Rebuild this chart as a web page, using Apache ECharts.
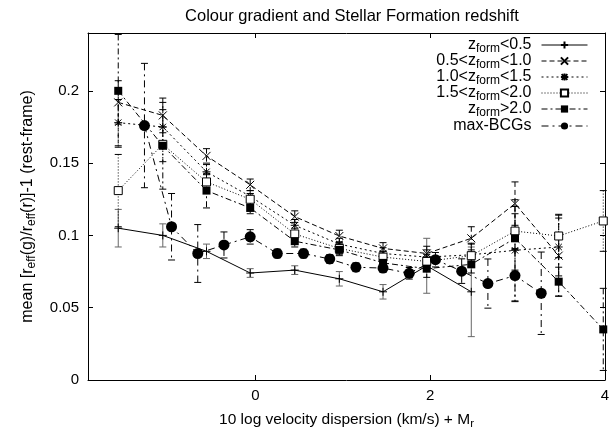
<!DOCTYPE html>
<html>
<head>
<meta charset="utf-8">
<script src="https://cdn.jsdelivr.net/npm/echarts@6/dist/echarts.min.js"></script>
<style>
  html, body { margin: 0; padding: 0; background: #fff; }
  #chart { width: 613px; height: 435px; }
</style>
</head>
<body>
<div id="chart"></div>
<script>
// velocity-dispersion bins shared by the z_form samples
const binX = [-1.57, -1.06, -0.56, -0.06, 0.45, 0.96, 1.46, 1.96, 2.47, 2.97, 3.47, 3.98];

// mean colour gradient and its error, per formation-redshift sample
const zLt05    = [0.105, 0.100, 0.089, 0.074, 0.076, 0.070, 0.061, 0.079, 0.061];
const zLt05Err = [0.013, 0.008, 0.005, 0.003, 0.003, 0.005, 0.005, 0.019, 0.031];

const z05to10    = [0.192, 0.183, 0.155, 0.135, 0.113, 0.0996, 0.091, 0.0875, 0.098, 0.122, 0.086];
const z05to10Err = [0.015, 0.012, 0.005, 0.004, 0.004, 0.004, 0.004, 0.005, 0.008, 0.015, 0.028];

const z10to15    = [0.178, 0.175, 0.144, 0.127, 0.107, 0.094, 0.0875, 0.085, 0.0866, 0.0897, 0.092];
const z10to15Err = [0.016, 0.012, 0.005, 0.004, 0.004, 0.004, 0.004, 0.005, 0.008, 0.035, 0.020];

const z15to20    = [0.131, 0.163, 0.137, 0.125, 0.101, 0.091, 0.085, 0.082, 0.086, 0.103, 0.0996, 0.110];
const z15to20Err = [0.025, 0.012, 0.005, 0.004, 0.004, 0.004, 0.004, 0.005, 0.008, 0.012, 0.015, 0.021];

const zGt20    = [0.200, 0.162, 0.131, 0.119, 0.096, 0.090, 0.081, 0.077, 0.080, 0.098, 0.068, 0.035];
const zGt20Err = [0.039, 0.030, 0.012, 0.004, 0.004, 0.004, 0.005, 0.006, 0.006, 0.022, 0.010, 0.0284];

// max-BCG comparison sample (its own bins)
const bcgX   = [-1.27, -0.96, -0.66, -0.36, -0.06, 0.25, 0.55, 0.85, 1.15, 1.46, 1.76, 2.06, 2.36, 2.66, 2.97, 3.27];
const bcgY   = [0.176, 0.106, 0.0875, 0.0934, 0.099, 0.0875, 0.0875, 0.0837, 0.078, 0.0774, 0.0738, 0.0832, 0.0753, 0.0667, 0.0722, 0.060];
const bcgErr = [0.043, 0.023, 0.020, 0.009, 0.005, 0.003, 0.003, 0.003, 0.003, 0.003, 0.004, 0.005, 0.0085, 0.017, 0.018, 0.0285];

// axis ticks
const xTicks = [0, 2, 4];
const yTicks = [0, 0.05, 0.1, 0.15, 0.2];

const FONT = 'Liberation Sans, Arial, Helvetica, sans-serif';

const SYM_PLUS = 'path://M0,5L10,5M5,0L5,10';
const SYM_CROSS = 'path://M0,0L10,10M10,0L0,10';
const SYM_STAR = 'path://M0,5L10,5M5,0L5,10M1,1L9,9M9,1L1,9';

const groups = [
  { name: 'z_form<0.5', xs: binX, ys: zLt05, err: zLt05Err, dash: 'solid', barColor: '#666',
    symbol: SYM_PLUS, size: 8, fill: 'none', border: '#000', bw: 1 },
  { name: '0.5<z_form<1.0', xs: binX, ys: z05to10, err: z05to10Err, dash: [5, 3], barColor: '#000',
    symbol: SYM_CROSS, size: 8, fill: 'none', border: '#000', bw: 1 },
  { name: '1.0<z_form<1.5', xs: binX, ys: z10to15, err: z10to15Err, dash: [2, 3], barColor: '#000',
    symbol: SYM_STAR, size: 8, fill: 'none', border: '#000', bw: 1 },
  { name: '1.5<z_form<2.0', xs: binX, ys: z15to20, err: z15to20Err, dash: [1, 2], barColor: '#000',
    symbol: 'rect', size: 8, fill: '#fff', border: '#000', bw: 1 },
  { name: 'z_form>2.0', xs: binX, ys: zGt20, err: zGt20Err, dash: [6, 3, 2, 3], barColor: '#000',
    symbol: 'rect', size: 8, fill: '#000', border: '#000', bw: 0 },
  { name: 'max-BCGs', xs: bcgX, ys: bcgY, err: bcgErr, dash: [7, 4, 2, 4], barColor: '#000',
    symbol: 'circle', size: 11, fill: '#000', border: '#000', bw: 0 }
];

function pairs(xs, ys) { return ys.map((y, i) => [xs[i], y]); }
function triples(xs, ys, es) { return ys.map((y, i) => [xs[i], y, es[i]]); }

function errorBars(g) {
  return {
    type: 'custom',
    silent: true,
    z: 1,
    data: triples(g.xs, g.ys, g.err),
    renderItem: function (params, api) {
      const x = api.value(0), y = api.value(1), e = api.value(2);
      const hi = api.coord([x, y + e]);
      const lo = api.coord([x, y - e]);
      const c = 3.5;
      const style = { stroke: g.barColor, lineWidth: 1, lineDash: g.dash === 'solid' ? null : g.dash, fill: null };
      return {
        type: 'group',
        children: [
          { type: 'line', shape: { x1: hi[0], y1: hi[1], x2: lo[0], y2: lo[1] }, style: style },
          { type: 'line', shape: { x1: hi[0] - c, y1: hi[1], x2: hi[0] + c, y2: hi[1] }, style: { stroke: g.barColor, lineWidth: 1 } },
          { type: 'line', shape: { x1: lo[0] - c, y1: lo[1], x2: lo[0] + c, y2: lo[1] }, style: { stroke: g.barColor, lineWidth: 1 } }
        ]
      };
    }
  };
}

function lineSeries(g) {
  return {
    type: 'line',
    name: g.name,
    z: 3,
    data: pairs(g.xs, g.ys),
    symbol: g.symbol,
    symbolSize: g.size,
    showAllSymbol: true,
    animation: false,
    lineStyle: { color: '#000', width: 1, type: g.dash },
    itemStyle: { color: g.fill === 'none' ? '#000' : g.fill, borderColor: g.border, borderWidth: g.bw },
    emphasis: { disabled: true }
  };
}

// subscripted legend / axis text
function subText(name) {
  const parts = name.split('z_form');
  if (parts.length === 1) return '{m|' + name + '}';
  return (parts[0] ? '{m|' + parts[0] + '}' : '') + '{m|z}{s|form}{m|' + parts[1] + '}';
}

const legendRows = [48, 64, 80, 96, 112, 129];
const legends = groups.map((g, i) => ({
  data: [g.name],
  orient: 'vertical',
  align: 'right',
  right: 25,
  top: legendRows[i] - 11,
  itemWidth: 46,
  itemHeight: 9,
  padding: 0,
  selectedMode: false,
  formatter: subText,
  lineStyle: { width: 1, color: '#000' },
  textStyle: {
    padding: [0, 5, 0, 0],
    rich: {
      m: { fontFamily: FONT, fontSize: 16, color: '#000' },
      s: { fontFamily: FONT, fontSize: 12, color: '#000', verticalAlign: 'bottom', padding: [8, 0, 0, 0] }
    }
  }
}));

const axisCommonX = { type: 'value', min: -1.916, max: 4 };
const axisCommonY = { type: 'value', min: 0, max: 0.24 };

const option = {
  animation: false,
  backgroundColor: '#fff',
  title: {
    text: 'Colour gradient and Stellar Formation redshift',
    left: 347,
    top: 3,
    textAlign: 'center',
    textStyle: { fontFamily: FONT, fontSize: 16.5, fontWeight: 'normal', color: '#000' }
  },
  legend: legends,
  grid: { left: 88, right: 8, top: 33, bottom: 51, containLabel: false },
  xAxis: [
    Object.assign({}, axisCommonX, {
      position: 'bottom',
      name: '{m|10 log velocity dispersion (km/s) + M}{s|r}',
      nameLocation: 'middle',
      nameGap: 30,
      nameTextStyle: {
        rich: {
          m: { fontFamily: FONT, fontSize: 15.5, color: '#000' },
          s: { fontFamily: FONT, fontSize: 11.5, color: '#000', verticalAlign: 'bottom', padding: [8, 0, 0, 0] }
        }
      },
      axisLine: { onZero: false, lineStyle: { color: '#000', width: 1 } },
      axisTick: { inside: true, length: 5, customValues: xTicks, lineStyle: { color: '#000' } },
      axisLabel: { customValues: xTicks, margin: 8, fontFamily: FONT, fontSize: 15, color: '#000' },
      splitLine: { show: false }
    }),
    Object.assign({}, axisCommonX, {
      position: 'top',
      axisLine: { onZero: false, lineStyle: { color: '#000', width: 1 } },
      axisTick: { inside: true, length: 5, customValues: xTicks, lineStyle: { color: '#000' } },
      axisLabel: { show: false },
      splitLine: { show: false }
    })
  ],
  yAxis: [
    Object.assign({}, axisCommonY, {
      position: 'left',
      name: '{m|mean [r}{s|eff}{m|(g)/r}{s|eff}{m|(r)]-1 (rest-frame)}',
      nameLocation: 'middle',
      nameRotate: 90,
      nameGap: 50,
      nameTextStyle: {
        rich: {
          m: { fontFamily: FONT, fontSize: 16, color: '#000' },
          s: { fontFamily: FONT, fontSize: 12, color: '#000', verticalAlign: 'bottom', padding: [8, 0, 0, 0] }
        }
      },
      axisLine: { show: true, onZero: false, lineStyle: { color: '#000', width: 1 } },
      axisTick: { show: true, inside: true, length: 5, customValues: yTicks, lineStyle: { color: '#000' } },
      axisLabel: { customValues: yTicks, margin: 9, fontFamily: FONT, fontSize: 15, color: '#000' },
      splitLine: { show: false }
    }),
    Object.assign({}, axisCommonY, {
      position: 'right',
      axisLine: { show: true, onZero: false, lineStyle: { color: '#000', width: 1 } },
      axisTick: { show: true, inside: true, length: 5, customValues: yTicks, lineStyle: { color: '#000' } },
      axisLabel: { show: false },
      splitLine: { show: false }
    })
  ],
  series: groups.map(errorBars).concat(groups.map(lineSeries))
};

const chart = echarts.init(document.getElementById('chart'), null, { renderer: 'canvas' });
chart.setOption(option);
</script>
</body>
</html>
